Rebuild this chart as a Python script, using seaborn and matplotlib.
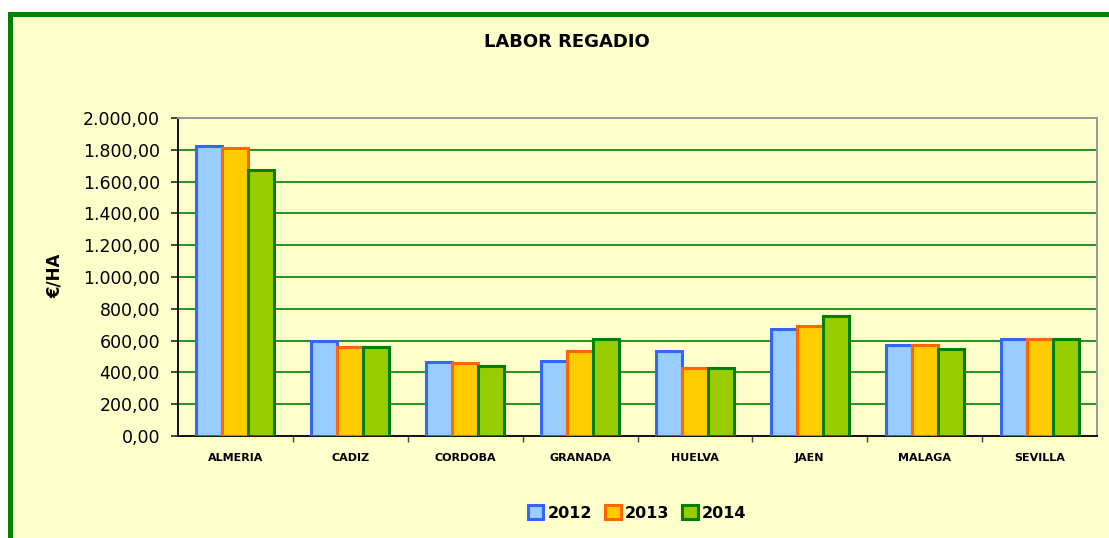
import matplotlib
matplotlib.use("Agg")
import matplotlib.pyplot as plt
import matplotlib.patches as mpatches
from matplotlib.ticker import FixedLocator, FixedFormatter
import seaborn as sns
import pandas as pd

# ---- data ----
provincias = ["ALMERIA", "CADIZ", "CORDOBA", "GRANADA", "HUELVA", "JAEN", "MALAGA", "SEVILLA"]
years = ["2012", "2013", "2014"]
v2012 = [1824, 597, 463, 474, 537, 671, 572, 608]
v2013 = [1809, 562, 462, 535, 426, 694, 572, 608]
v2014 = [1673, 558, 440, 608, 425, 757, 547, 608]
y_ticks = [0, 200, 400, 600, 800, 1000, 1200, 1400, 1600, 1800, 2000]
y_tick_labels = ["0,00", "200,00", "400,00", "600,00", "800,00", "1.000,00",
                 "1.200,00", "1.400,00", "1.600,00", "1.800,00", "2.000,00"]
title = "LABOR REGADIO"
ylabel = "€/HA"

fills = {"2012": "#99CCFF", "2013": "#FFCC00", "2014": "#99CC00"}
edges = {"2012": "#3366FF", "2013": "#FF6600", "2014": "#008000"}
bg = "#FFFFCC"

rows = []
for yr, vals in zip(years, [v2012, v2013, v2014]):
    for p, v in zip(provincias, vals):
        rows.append({"provincia": p, "año": yr, "valor": v})
df = pd.DataFrame(rows)

sns.set_theme(style="white")
plt.rcParams["font.family"] = ["DejaVu Sans"]
plt.rcParams["text.color"] = "black"

W, H = 1109, 538
fig = plt.figure(figsize=(W / 100, H / 100), dpi=100, facecolor="white")

# green border frame
lw_px = 5
border = mpatches.Rectangle((9.8 / W, -0.2), 1.5, 1.2 - 13.5 / H,
                            transform=fig.transFigure, facecolor=bg,
                            edgecolor="#008000", linewidth=lw_px * 0.72, zorder=-10)
fig.patches.append(border)

L, R, T, B = 178, 1097, 118, 436
ax = fig.add_axes([L / W, 1 - B / H, (R - L) / W, (B - T) / H])
ax.set_facecolor(bg)

sns.barplot(data=df, x="provincia", y="valor", hue="año", hue_order=years,
            order=provincias, palette=fills, saturation=1, width=0.68,
            linewidth=2.2, edgecolor="black", ax=ax, legend=True)

for cont, yr in zip(ax.containers, years):
    for bar in cont:
        bar.set_edgecolor(edges[yr])
        bar.set_zorder(3)

ax.set_xlim(-0.5, len(provincias) - 0.5)
ax.set_ylim(0, 2000)
ax.yaxis.set_major_locator(FixedLocator(y_ticks))
ax.yaxis.set_major_formatter(FixedFormatter(y_tick_labels))
ax.grid(axis="y", color="#008000", linewidth=1.2, zorder=0)
ax.set_axisbelow(True)

ax.tick_params(axis="y", which="major", direction="out", length=5, width=1.2,
               color="#222222", labelsize=12.5, labelcolor="black", pad=8, left=True)
ax.tick_params(axis="x", which="major", length=0, labelsize=8, pad=12.5, labelcolor="black")
ax.set_xticks([i + 0.5 for i in range(len(provincias) - 1)], minor=True)
ax.tick_params(axis="x", which="minor", direction="out", length=4, width=1,
               color="#444444", bottom=True)
for lab in ax.get_xticklabels():
    lab.set_fontweight("bold")

for s in ["left", "bottom"]:
    ax.spines[s].set_color("#111111")
    ax.spines[s].set_linewidth(1.4)
for s in ["top", "right"]:
    ax.spines[s].set_color("#999999")
    ax.spines[s].set_linewidth(1.4)

ax.set_xlabel("")
ax.set_ylabel("")
fig.text(55 / W, 1 - 276 / H, ylabel, rotation=90, ha="center", va="center",
         fontsize=12, fontweight="bold", color="black")
fig.text(567 / W, 1 - 42 / H, title, ha="center", va="center",
         fontsize=13, fontweight="bold", color="black")

if ax.legend_ is not None:
    ax.legend_.remove()
handles = [mpatches.Patch(facecolor=fills[y], edgecolor=edges[y], linewidth=2.2) for y in years]
fig.legend(handles, years, loc="center", bbox_to_anchor=(637 / W, 1 - 513 / H),
           ncol=3, frameon=False, handlelength=1.0, handleheight=1.0,
           handletextpad=0.25, columnspacing=0.8, labelcolor="black",
           prop={"size": 11.5, "weight": "bold"})

fig.savefig("out.png", dpi=100, facecolor="white")
